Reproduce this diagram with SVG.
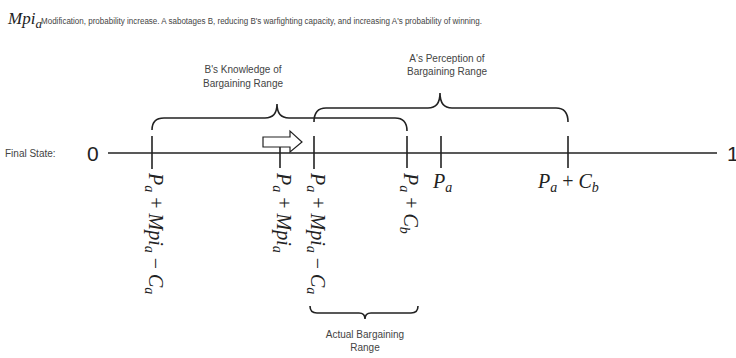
<svg xmlns="http://www.w3.org/2000/svg" width="736" height="358" viewBox="0 0 736 358">
<style>
.ln{stroke:#222;stroke-width:1.6;fill:none}
.lbl{font-family:"Liberation Sans",Arial,sans-serif;font-size:10px;fill:#444}
.m{font-family:"Liberation Serif","Times New Roman",serif;font-style:italic;font-size:20px;fill:#222}
.s{font-size:14px}
.op{font-style:normal}
.big{font-family:"Liberation Sans",Arial,sans-serif;font-size:21px;fill:#222}
</style>
<rect width="736" height="358" fill="#fff"/>
<g id="title">
<text class="m" x="8" y="24" style="font-size:17px">Mpi<tspan class="s" dy="4" style="font-size:13px">a</tspan></text>
<text class="lbl" x="41" y="24" style="font-size:8.5px" textLength="441" lengthAdjust="spacingAndGlyphs">Modification, probability increase. A sabotages B, reducing B's warfighting capacity, and increasing A's probability of winning.</text>
</g>
<g id="axis">
<text class="lbl" x="5" y="157">Final State:</text>
<text class="big" x="87" y="161">0</text>
<text class="big" x="727" y="161">1</text>
<line class="ln" x1="108" y1="153" x2="717" y2="153"/>
</g>
<g id="ticks">
<line class="ln" x1="152" y1="136" x2="152" y2="169"/>
<line class="ln" x1="280" y1="147" x2="280" y2="168"/>
<line class="ln" x1="314" y1="136" x2="314" y2="169"/>
<line class="ln" x1="407" y1="136" x2="407" y2="168"/>
<line class="ln" x1="441" y1="136" x2="441" y2="168"/>
<line class="ln" x1="568" y1="136" x2="568" y2="168"/>
</g>
<g id="shift-arrow">
<polygon class="ln" style="stroke-width:1.2" points="263,137 290,137 290,131 302,142 290,152 290,147 263,147"/>
</g>
<g id="labels-vertical">
<text class="m" transform="translate(149,173) rotate(90)">P<tspan class="s" dy="4">a</tspan><tspan class="op" dy="-4"> + </tspan>Mpi<tspan class="s" dy="4">a</tspan><tspan class="op" dy="-4"> − </tspan>C<tspan class="s" dy="4">a</tspan></text>
<text class="m" transform="translate(277,173) rotate(90)">P<tspan class="s" dy="4">a</tspan><tspan class="op" dy="-4"> + </tspan>Mpi<tspan class="s" dy="4">a</tspan></text>
<text class="m" transform="translate(311,173) rotate(90)">P<tspan class="s" dy="4">a</tspan><tspan class="op" dy="-4"> + </tspan>Mpi<tspan class="s" dy="4">a</tspan><tspan class="op" dy="-4"> − </tspan>C<tspan class="s" dy="4">a</tspan></text>
<text class="m" transform="translate(404,173) rotate(90)">P<tspan class="s" dy="4">a</tspan><tspan class="op" dy="-4"> + </tspan>C<tspan class="s" dy="4">b</tspan></text>
</g>
<g id="labels-horizontal">
<text class="m" x="433" y="188">P<tspan class="s" dy="4">a</tspan></text>
<text class="m" x="538" y="188">P<tspan class="s" dy="4">a</tspan><tspan class="op" dy="-4"> + </tspan>C<tspan class="s" dy="4">b</tspan></text>
</g>
<g id="brace-b">
<path class="ln" d="M152,130 Q152,118 164,118 L265,118 Q277,118 277,104 Q277,118 289,118 L395,118 Q407,118 407,131"/>
<text class="lbl" text-anchor="middle" x="243" y="73">B's Knowledge of</text>
<text class="lbl" text-anchor="middle" x="243" y="87">Bargaining Range</text>
</g>
<g id="brace-a">
<path class="ln" d="M314,122 Q314,108 326,108 L428,108 Q440,108 440,93 Q440,108 452,108 L556,108 Q568,108 568,122"/>
<text class="lbl" text-anchor="middle" x="447" y="62">A's Perception of</text>
<text class="lbl" text-anchor="middle" x="447" y="75">Bargaining Range</text>
</g>
<g id="brace-actual">
<path class="ln" d="M310,306 Q310,313 317,313 L359,313 Q365,313 365,319 Q365,313 371,313 L411,313 Q418,313 418,306"/>
<text class="lbl" text-anchor="middle" x="365" y="338">Actual Bargaining</text>
<text class="lbl" text-anchor="middle" x="365" y="351">Range</text>
</g>
</svg>
